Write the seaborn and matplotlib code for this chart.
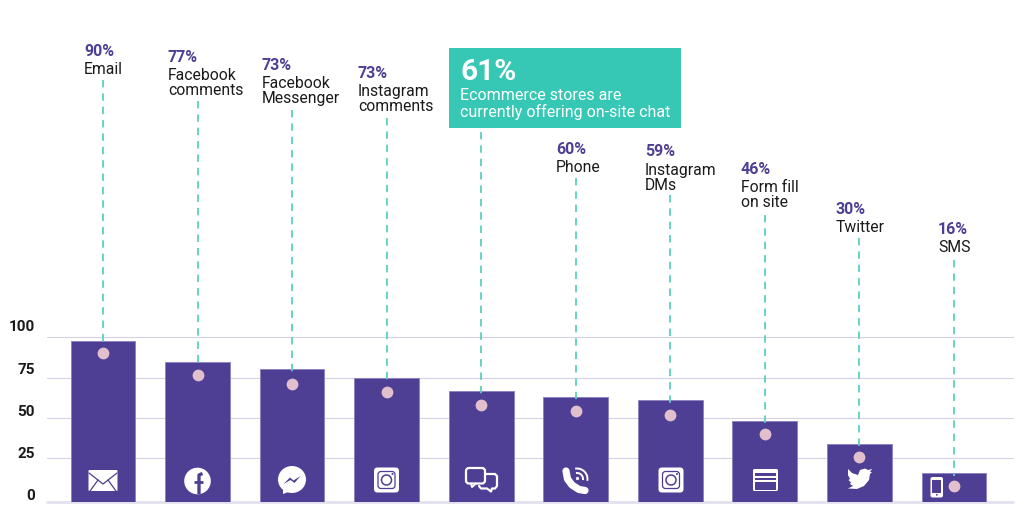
import numpy as np
import pandas as pd
import matplotlib
matplotlib.use("Agg")
import matplotlib.pyplot as plt
import seaborn as sns
from matplotlib.patches import Circle, Rectangle, FancyBboxPatch, Polygon, Arc, Ellipse
from matplotlib.transforms import ScaledTranslation

# Values
channels = ["Email", "Facebook\ncomments", "Facebook\nMessenger", "Instagram\ncomments", "On-site chat",
            "Phone", "Instagram\nDMs", "Form fill\non site", "Twitter", "SMS"]
percent_labels = ["90%", "77%", "73%", "73%", "61%", "60%", "59%", "46%", "30%", "16%"]
bar_values = [97.7, 84.5, 80.4, 74.8, 66.9, 63.0, 61.3, 48.3, 34.0, 16.8]
dot_values = [90.5, 76.6, 71.1, 66.3, 58.0, 54.4, 52.1, 39.9, 26.0, 9.3]
y_ticks = [0, 25, 50, 75, 100]

# Layout, in pixels of the 1024x530 picture
tick_px = [502, 458.3, 418.3, 377.5, 337.3]  # the reference axis is slightly uneven
label_x = [84, 168, 262, 358, 460, 556, 645, 741, 836, 938]
percent_y = [51, 58, 65, 74, 72, 149, 152, 170, 210, 229]
name_y = [69, 83, 91, 99, 0, 167, 178, 195, 228, 248]
stem_top_px = [80, 101, 110, 118, 132, 178, 195, 215, 238, 260]
tick_shift_px = [8, 6.3, 8.3, 9.5, 11.6]

PURPLE = "#4F3F94"
TEAL = "#36C8B4"
STEM = "#5AD1BF"
PINK = "#E1BFCC"
GRID = "#D6D1E6"
BLACK = "#1A1A1A"

sns.set_theme(style="white")
plt.rcParams["font.family"] = ["Roboto", "DejaVu Sans"]

W, H = 1024, 530
fig = plt.figure(figsize=(W / 100, H / 100), dpi=100, facecolor="white")

# plot area: gridlines run 47..1013
ax = fig.add_axes([47 / W, 1 - 502 / H, (1013 - 47) / W, (502 - 337.3) / H])
df = pd.DataFrame({"channel": channels, "value": bar_values})
sns.barplot(data=df, x="channel", y="value", color=PURPLE, saturation=1, width=0.684,
            edgecolor="#8B7FBF", linewidth=0.6, ax=ax, zorder=3)


# piecewise y scale that follows the gridline spacing of the reference
def fwd(v):
    return np.interp(v, y_ticks, [502 - p for p in tick_px])


def inv(p):
    return np.interp(p, [502 - q for q in tick_px], y_ticks)


ax.set_yscale("function", functions=(fwd, inv))
ax.set_xlim(-0.592, 9.625)
ax.set_ylim(0, 100)
ax.set_xlabel("")
ax.set_ylabel("")
ax.set_xticks([])
ax.set_yticks(y_ticks)
ax.set_yticklabels([str(t) for t in y_ticks], fontsize=11, fontweight="bold", color=BLACK)
ax.minorticks_off()
ax.tick_params(axis="y", length=0, pad=8.8)
ax.grid(axis="y", color=GRID, linewidth=0.8, zorder=0, clip_on=False)
ax.set_axisbelow(True)
sns.despine(ax=ax, left=True, top=True, right=True, bottom=True)
ax.axhline(0, color="#E4E1EF", linewidth=2, zorder=2, clip_on=False)

# tick labels sit a bit above their gridlines
for lab, shift in zip(ax.get_yticklabels(), tick_shift_px):
    lab.set_transform(lab.get_transform() + ScaledTranslation(0, shift / 100, fig.dpi_scale_trans))

# dots on the values
xs = np.arange(len(channels))
ax.scatter(xs, dot_values, s=72, color=PINK, linewidth=0, zorder=5)

# overlay in picture pixels for stems, labels and icons
ov = fig.add_axes([0, 0, 1, 1], facecolor="none")
ov.set_xlim(0, W)
ov.set_ylim(H, 0)
ov.axis("off")

for i, v in enumerate(dot_values):
    x = 103 + 94.55 * i
    y = 502 - fwd(v)
    ov.plot([x, x], [stem_top_px[i], y - 10], color=STEM, linewidth=1.3, dashes=(4.1, 3.3), zorder=4)

for i, name in enumerate(channels):
    if i == 4:
        continue
    ov.text(label_x[i], percent_y[i], percent_labels[i], fontsize=11.5, fontweight="bold", color=PURPLE,
            ha="left", va="center")
    ov.text(label_x[i], name_y[i], name, fontsize=11.3, color=BLACK, ha="left", va="center", linespacing=1.0)

# highlight box
ov.add_patch(Rectangle((449, 48), 232, 80, facecolor=TEAL, edgecolor="none", zorder=3))
ov.text(460, 72, percent_labels[4], fontsize=21.5, fontweight="bold", color="white", ha="left", va="center", zorder=4)
ov.text(460, 104, "Ecommerce stores are\ncurrently offering on-site chat", fontsize=11.5, color="white",
        ha="left", va="center", linespacing=1.0, zorder=4)


# icons, white on the bars
def rbox(x0, y0, w, h, r, **kw):
    return FancyBboxPatch((x0 + r, y0 + r), w - 2 * r, h - 2 * r, boxstyle=f"round,pad={r}", **kw)


def instagram(cx, cy):
    ov.add_patch(rbox(cx - 12.5, cy - 12.5, 25, 25, 3.5, facecolor="white", edgecolor="none", zorder=6))
    ov.add_patch(rbox(cx - 8.5, cy - 8.5, 17, 17, 3, facecolor="none", edgecolor=PURPLE, linewidth=0.9, zorder=7))
    ov.add_patch(Circle((cx, cy), 5, facecolor="none", edgecolor=PURPLE, linewidth=1.1, zorder=7))
    ov.add_patch(Circle((cx + 6, cy - 6), 1, facecolor=PURPLE, edgecolor="none", zorder=7))


# envelope
ov.add_patch(rbox(88.5, 470, 29, 21, 1, facecolor="white", edgecolor="none", zorder=6))
ov.plot([89, 103, 117], [473, 484, 473], color=PURPLE, linewidth=0.9, zorder=7)
ov.plot([90, 98], [491, 480], color=PURPLE, linewidth=0.9, zorder=7)
ov.plot([116, 108], [491, 480], color=PURPLE, linewidth=0.9, zorder=7)

# facebook
ov.add_patch(Circle((197.5, 481), 13.3, facecolor="white", edgecolor="none", zorder=6))
ov.plot([199, 199, 202.5], [494, 475, 473.5], color=PURPLE, linewidth=2.4, solid_capstyle="butt", zorder=7)
ov.plot([194, 203], [481.5, 481.5], color=PURPLE, linewidth=2.0, solid_capstyle="butt", zorder=7)

# messenger
ov.add_patch(Ellipse((292, 479.5), 28, 27, facecolor="white", edgecolor="none", zorder=6))
ov.add_patch(Polygon([[283, 488], [283, 494], [291, 491]], facecolor="white", edgecolor="none", zorder=6))
ov.add_patch(Polygon([[283.5, 484], [290, 477.5], [293.5, 480.5], [300.5, 476], [294.5, 483], [290.5, 480]],
                     facecolor=PURPLE, edgecolor="none", zorder=7))

instagram(386.5, 480)
instagram(671, 480)

# chat bubbles
ov.add_patch(rbox(466, 468, 19, 15.5, 3, facecolor="none", edgecolor="white", linewidth=1.6, zorder=6))
ov.plot([471, 472, 476], [483.5, 487, 483.5], color="white", linewidth=1.4, zorder=6)
ov.plot([486, 495, 497, 497, 495, 492, 491, 487, 481, 479],
        [474, 474, 476, 486, 488.5, 488.5, 491.5, 488.5, 488.5, 486], color="white", linewidth=1.6, zorder=6)

# phone
ov.plot([566, 567.5, 572, 579, 585], [471, 479, 485, 489.5, 490.5], color="white", linewidth=5.2,
        solid_capstyle="round", zorder=6)
ov.add_patch(Circle((577.5, 478.5), 1.6, facecolor="white", edgecolor="none", zorder=6))
for d in (6, 10.5):
    ov.add_patch(Arc((577, 479), 2 * d, 2 * d, theta1=-100, theta2=10, edgecolor="white", linewidth=1.4, zorder=6))

# browser form
ov.add_patch(rbox(753, 469, 25, 22, 1.5, facecolor="white", edgecolor="none", zorder=6))
for y0, h in ((473, 2.5), (478, 2), (482, 7.5)):
    ov.add_patch(Rectangle((755, y0), 21, h, facecolor=PURPLE, edgecolor="none", zorder=7))
ov.add_patch(Rectangle((760, 470.5), 11, 0.9, facecolor=PURPLE, edgecolor="none", zorder=7))

# twitter
ov.add_patch(Polygon([[848, 469], [852, 473], [858, 475], [860, 470], [865, 468.5], [868, 470], [872, 469],
                      [870, 472], [872, 472], [870, 474], [869, 480], [864, 486], [857, 489], [848, 488.5],
                      [853, 486], [850, 484], [851, 482.5], [848.5, 480], [850, 479], [848, 475]],
                     facecolor="white", edgecolor="none", zorder=6))

# mobile
ov.add_patch(rbox(930.5, 477, 12.5, 20.5, 2, facecolor="white", edgecolor="none", zorder=6))
ov.add_patch(Rectangle((932.3, 480), 9, 12.5, facecolor=PURPLE, edgecolor="none", zorder=7))
ov.add_patch(Circle((936.8, 494.8), 0.9, facecolor=PURPLE, edgecolor="none", zorder=7))

fig.savefig("out.png", dpi=100, facecolor="white")
